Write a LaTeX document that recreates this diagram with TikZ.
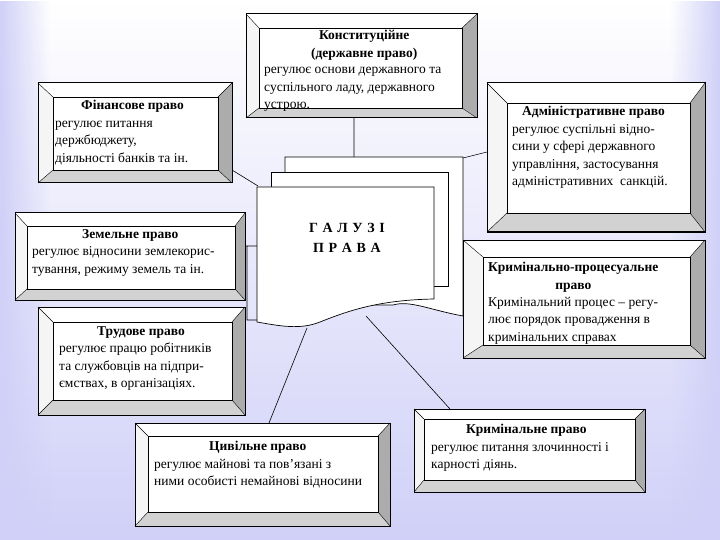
\documentclass[tikz,border=0pt]{standalone}
\usepackage{fontspec}
\usetikzlibrary{fadings}
\setmainfont{Liberation Serif}
\definecolor{lav}{RGB}{208,208,248}
\newcommand\bev[8]{%
 \fill[white] (#1,#2)--(#3,#2)--(#7,#6)--(#5,#6)--cycle;
 \fill[gray!8] (#1,#2)--(#5,#6)--(#5,#8)--(#1,#4)--cycle;
 \fill[gray!65] (#3,#2)--(#3,#4)--(#7,#8)--(#7,#6)--cycle;
 \fill[gray!35] (#1,#4)--(#3,#4)--(#7,#8)--(#5,#8)--cycle;
 \draw[line width=0.8pt,fill=white] (#5,#6) rectangle (#7,#8);
 \draw[line width=1pt] (#1,#2) rectangle (#3,#4);
 \draw (#1,#2)--(#5,#6) (#3,#2)--(#7,#6) (#1,#4)--(#5,#8) (#3,#4)--(#7,#8);}
\tikzset{txt/.style={anchor=north west,align=left,inner sep=0pt,font=\fontsize{13.5}{17.5}\selectfont},
 conn/.style={line width=0.6pt}, sheet/.style={draw,line width=0.7pt,fill=white}}
\begin{document}
\begin{tikzpicture}[x=1pt,y=-1pt]
\useasboundingbox (0,0) rectangle (720,540);
\shade[top color=white,bottom color=lav] (0,0) rectangle (720,540);
\fill[lav,path fading=east] (0,0) rectangle (50,540);
\fill[lav,path fading=west] (670,0) rectangle (720,540);
% connectors
\coordinate (k1) at (354,117); \coordinate (k2) at (354,157);
\coordinate (f1) at (232,170); \coordinate (f2) at (258,186);
\coordinate (a1) at (487,152); \coordinate (a2) at (463,158);
\coordinate (z1) at (245,246); \coordinate (z2) at (257,246);
\coordinate (t0) at (247,246); \coordinate (t1) at (247,320); \coordinate (t2) at (257,320);
\coordinate (c1) at (269,423); \coordinate (c2) at (307,328);
\coordinate (r1) at (450,409); \coordinate (r2) at (366,316);
\draw[conn] (k1)--(k2) (f1)--(f2) (a1)--(a2) (z1)--(z2) (t0)--(t1)--(t2) (c1)--(c2) (r1)--(r2);
% sheets
\draw[sheet] (285,157)--(463,157)--(463,316) .. controls (430,310) and (410,300) .. (393,305)--(285,305)--cycle;
\draw[sheet] (271,172) rectangle (448,286);
\draw[sheet] (257,187)--(434,187)--(434,299) .. controls (380,300) and (350,310) .. (320,322) .. controls (300,330) and (280,326) .. (257,322)--cycle;
\node[font=\bfseries\fontsize{14}{20}\selectfont,align=center] (gal) at (347,238) {Г\,\,А\,\,Л\,\,У\,\,З\,\,І\\П\,\,Р\,\,А\,\,В\,\,А};
% boxes
\bev{246}{14}{477}{118}{259}{28}{462}{108}
\node[txt,align=center] (kon) at (264,30) {\hspace*{10pt}\textbf{Конституційне}\\ \hspace*{10pt}\textbf{(державне право)}\\[-1pt]\makebox[190pt][l]{регулює основи державного та}\\\makebox[190pt][l]{суспільного ладу, державного}\\\makebox[190pt][l]{устрою.}};
\bev{38}{83}{232}{183}{53}{97}{218}{170}
\node[txt] (fin) at (55,100) {\hspace*{26pt}\textbf{Фінансове право}\\регулює питання\\держбюджету,\\діяльності банків та ін.};
\bev{487}{83}{705}{232}{507}{103}{690}{213}
\node[txt] (adm) at (512,106) {\hspace*{10pt}\textbf{Адміністративне право}\\регулює суспільні відно-\\сини у сфері державного\\управління, застосування\\адміністративних\ \ санкцій.};
\bev{463}{240}{705}{358}{483}{257}{690}{345}
\node[txt,align=center] (kpp) at (488,262) {\textbf{Кримінально-процесуальне}\\\textbf{право}};
\node[txt] (kpt) at (488,297) {Кримінальний процес -- регу-\\лює порядок провадження в\\кримінальних справах};
\bev{15}{213}{245}{300}{27}{226}{235}{289}
\node[txt] (zem) at (32,229) {\hspace*{50pt}\textbf{Земельне право}\\регулює відносини землекорис-\\тування, режиму земель та ін.};
\bev{38}{307}{245}{415}{53}{322}{232}{400}
\node[txt] (tru) at (59,326) {\hspace*{38pt}\textbf{Трудове право}\\регулює працю робітників\\та службовців на підпри-\\ємствах, в організаціях.};
\bev{135}{423}{390}{526}{148}{436}{378}{512}
\node[txt] (civ) at (154,441) {\hspace*{55pt}\textbf{Цивільне право}\\регулює майнові та пов'язані з\\ними особисті немайнові відносини};
\bev{414}{409}{645}{492}{424}{419}{635}{480}
\node[txt] (krm) at (431,424) {\hspace*{35pt}\textbf{Кримінальне право}\\регулює питання злочинності і\\карності діянь.};
\end{tikzpicture}
\end{document}
